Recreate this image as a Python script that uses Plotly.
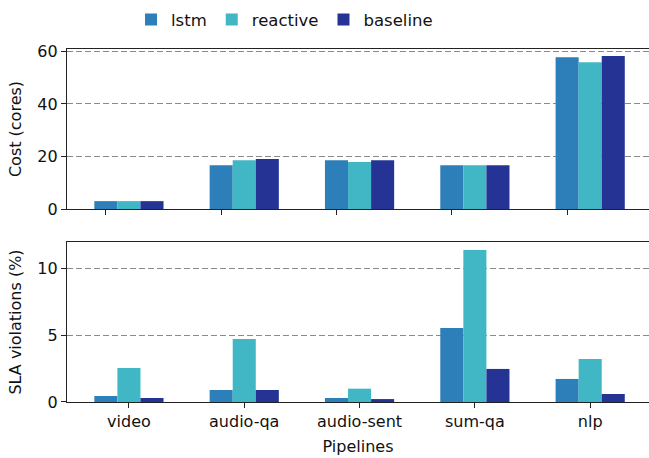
import plotly.graph_objects as go

pipelines = ["video", "audio-qa", "audio-sent", "sum-qa", "nlp"]
series_names = ["lstm", "reactive", "baseline"]
colors = ["#2c7fb8", "#41b6c4", "#253494"]

cost_lstm = [3.0, 16.7, 18.6, 16.7, 57.8]
cost_reactive = [3.0, 18.6, 17.9, 16.7, 55.9]
cost_baseline = [3.0, 19.0, 18.6, 16.7, 58.2]

sla_lstm = [0.45, 0.9, 0.3, 5.55, 1.73]
sla_reactive = [2.55, 4.73, 1.0, 11.4, 3.23]
sla_baseline = [0.3, 0.9, 0.22, 2.48, 0.6]

cost = [cost_lstm, cost_reactive, cost_baseline]
sla = [sla_lstm, sla_reactive, sla_baseline]

xs = list(range(len(pipelines)))
font = "DejaVu Sans"
FS = 16

fig = go.Figure()
for name, col, cv, sv in zip(series_names, colors, cost, sla):
    fig.add_trace(go.Bar(x=xs, y=cv, name=name, marker=dict(color=col, line=dict(width=0)),
                         xaxis="x", yaxis="y", offsetgroup=name, legendgroup=name))
    fig.add_trace(go.Bar(x=xs, y=sv, name=name, marker=dict(color=col, line=dict(width=0)),
                         xaxis="x2", yaxis="y2", offsetgroup=name, legendgroup=name,
                         showlegend=False))

xrange = [-0.537, 4.51]
axis_common = dict(showline=True, linecolor="#222222", linewidth=1.2,
                   ticks="outside", ticklen=5, tickcolor="#222222", automargin=False,
                   tickfont=dict(family=font, size=FS, color="#111111"))
grid = dict(showgrid=True, gridcolor="#8a8a8a", griddash="6px,3px", gridwidth=1)

fig.update_layout(
    width=649, height=458, autosize=False,
    margin=dict(l=67, r=0, t=49, b=56, autoexpand=False),
    paper_bgcolor="white", plot_bgcolor="white",
    barmode="group", bargap=0.4, bargroupgap=0,
    font=dict(family=font, size=FS, color="#111111"),
    showlegend=True,
    legend=dict(orientation="h", x=0.11, y=0.995, xanchor="left", yanchor="top",
                yref="container",
                font=dict(family=font, size=16.5, color="#111111"),
                itemwidth=30, tracegroupgap=0, bgcolor="rgba(0,0,0,0)"),
    xaxis=dict(domain=[0, 1], range=xrange, anchor="y", mirror=True,
               tickvals=[i - 0.2 for i in xs], showticklabels=False,
               showgrid=False, zeroline=False, **axis_common),
    yaxis=dict(domain=[0.5467, 1], range=[0, 60.9], anchor="x",
               tickvals=[0, 20, 40, 60], zeroline=False,
               title=dict(text="Cost (cores)", font=dict(family=font, size=FS), standoff=11),
               **grid, **axis_common),
    xaxis2=dict(domain=[0, 1], range=xrange, anchor="y2", mirror=True,
                tickvals=xs, ticktext=pipelines, showgrid=False, zeroline=False,
                title=dict(text="Pipelines", font=dict(family=font, size=FS), standoff=10),
                **axis_common),
    yaxis2=dict(domain=[0, 0.4533], range=[0, 12], anchor="x2",
                tickvals=[0, 5, 10], zeroline=False,
                title=dict(text="SLA violations (%)", font=dict(family=font, size=FS), standoff=11),
                **grid, **axis_common),
)

post = (
    "document.body.style.margin='0';"
    "document.body.style.overflow='hidden';"
    "var gd=document.getElementById('{plot_id}');"
    "Plotly.relayout(gd,{width:649,height:458});"
)
fig.write_html("out.html", config={"displayModeBar": False, "responsive": False},
               post_script=post)
